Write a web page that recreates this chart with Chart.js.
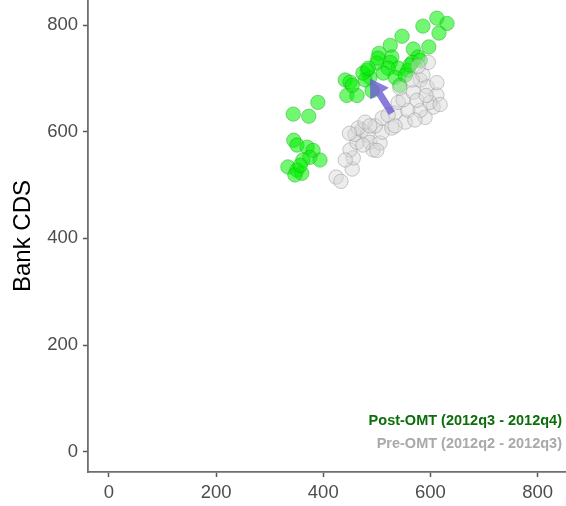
<!DOCTYPE html>
<html>
<head>
<meta charset="utf-8">
<script src="https://cdn.jsdelivr.net/npm/chart.js@4.4.1/dist/chart.umd.min.js"></script>
<style>
  html, body { margin: 0; padding: 0; background: #ffffff; }
  #wrap { width: 566px; height: 506px; }
</style>
</head>
<body>
<div id="wrap"><canvas id="c" width="566" height="506"></canvas></div>
<script>
// Bank CDS (y) against sovereign CDS (x), before and after the OMT announcement

// Pre-OMT observations (2012q2 - 2012q3)
const preX = [424, 433, 454, 456, 450, 463, 459, 472, 482, 487, 493, 474, 506, 510, 497, 510,
              534, 540, 553, 558, 549, 568, 581, 586, 594, 612, 605, 590, 581, 575, 599, 521,
              528, 441, 465, 478, 566, 543, 618, 596, 571, 577, 449, 487, 500, 534, 612, 592];
const preY = [515, 507, 530, 551, 566, 580, 595, 603, 594, 580, 566, 575, 579, 599, 611, 626,
              635, 655, 618, 640, 660, 674, 697, 706, 684, 669, 646, 627, 640, 659, 655, 631,
              607, 547, 607, 618, 697, 682, 651, 730, 622, 723, 597, 611, 565, 611, 692, 668];

// Post-OMT observations (2012q3 - 2012q4)
const postX = [390, 344, 373, 345, 351, 370, 381, 375, 394, 362, 334, 351, 360, 347, 357,
               586, 612, 631, 616, 597, 547, 525, 568, 577, 504, 528, 500, 525, 566, 540,
               558, 521, 482, 487, 512, 534, 553, 441, 450, 444, 463, 478, 454, 474, 484,
               502, 543, 562, 581, 491];
const postY = [655, 633, 629, 584, 575, 571, 565, 552, 547, 547, 534, 528, 522, 519, 537,
               798, 813, 803, 785, 759, 779, 762, 755, 740, 747, 740, 729, 730, 730, 719,
               715, 719, 715, 702, 710, 702, 706, 697, 693, 668, 668, 697, 687, 710, 719,
               738, 687, 725, 734, 677];

// Shift of the group mean: from pre-OMT to post-OMT
const arrowFrom = [528, 635];
const arrowTo = [487, 700];

const xTicks = [0, 200, 400, 600, 800];
const yTicks = [0, 200, 400, 600, 800];

const seriesLabels = ['Post-OMT (2012q3 - 2012q4)', 'Pre-OMT (2012q2 - 2012q3)'];
const yTitle = 'Bank CDS';

const FONT = '"Liberation Sans", Arial, Helvetica, sans-serif';

const toPoints = (xs, ys) => xs.map((x, i) => ({ x: x, y: ys[i] }));

// Arrow drawn in data space over the points
const arrowPlugin = {
  id: 'meanArrow',
  afterDatasetsDraw(chart) {
    const { ctx, scales } = chart;
    const x1 = scales.x.getPixelForValue(arrowFrom[0]);
    const y1 = scales.y.getPixelForValue(arrowFrom[1]);
    const x2 = scales.x.getPixelForValue(arrowTo[0]);
    const y2 = scales.y.getPixelForValue(arrowTo[1]);
    const dx = x2 - x1, dy = y2 - y1;
    const len = Math.hypot(dx, dy);
    const ux = dx / len, uy = dy / len;
    const px = -uy, py = ux;
    const headLen = 18, headHalf = 11, shaftHalf = 3.6;
    const bx = x2 - ux * headLen, by = y2 - uy * headLen;
    ctx.save();
    ctx.fillStyle = 'rgba(106, 90, 210, 0.8)';
    ctx.beginPath();
    ctx.moveTo(x1 + px * shaftHalf, y1 + py * shaftHalf);
    ctx.lineTo(bx + px * shaftHalf, by + py * shaftHalf);
    ctx.lineTo(bx + px * headHalf, by + py * headHalf);
    ctx.lineTo(x2, y2);
    ctx.lineTo(bx - px * headHalf, by - py * headHalf);
    ctx.lineTo(bx - px * shaftHalf, by - py * shaftHalf);
    ctx.lineTo(x1 - px * shaftHalf, y1 - py * shaftHalf);
    ctx.closePath();
    ctx.fill();
    ctx.restore();
  }
};

// Group labels in the lower right corner of the panel
const groupLabelPlugin = {
  id: 'groupLabels',
  afterDraw(chart) {
    const { ctx, chartArea } = chart;
    ctx.save();
    ctx.font = 'bold 14.5px ' + FONT;
    ctx.textAlign = 'right';
    ctx.textBaseline = 'middle';
    ctx.fillStyle = '#0b6e0b';
    ctx.fillText(seriesLabels[0], chartArea.right - 4, chartArea.bottom - 51);
    ctx.fillStyle = '#a9a9a9';
    ctx.fillText(seriesLabels[1], chartArea.right - 4, chartArea.bottom - 28);
    ctx.restore();
  }
};

const axisCommon = {
  type: 'linear',
  grid: { display: true, drawOnChartArea: false, drawTicks: true, tickLength: 5, tickWidth: 1.5, tickColor: '#555555' },
  border: { display: true, color: '#6e6e6e', width: 1.8 },
  ticks: { color: '#4d4d4d', font: { family: FONT, size: 18.5 } }
};

// keep the panel flush with the canvas edges
function noPadding(scale) {
  scale.paddingTop = 0;
  scale.paddingBottom = 0;
  scale.paddingLeft = 0;
  scale.paddingRight = 0;
}

new Chart(document.getElementById('c'), {
  type: 'scatter',
  data: {
    datasets: [
      {
        label: seriesLabels[1],
        data: toPoints(preX, preY),
        backgroundColor: 'rgba(215, 215, 215, 0.45)',
        borderColor: 'rgba(150, 150, 150, 0.5)',
        borderWidth: 1,
        pointRadius: 7.2
      },
      {
        label: seriesLabels[0],
        data: toPoints(postX, postY),
        backgroundColor: 'rgba(0, 240, 0, 0.55)',
        borderColor: 'rgba(20, 170, 20, 0.45)',
        borderWidth: 1,
        pointRadius: 7.2
      }
    ]
  },
  options: {
    responsive: false,
    animation: false,
    devicePixelRatio: 1,
    layout: { padding: 0, autoPadding: false },
    plugins: { legend: { display: false }, tooltip: { enabled: false } },
    scales: {
      x: Object.assign({}, axisCommon, {
        position: 'bottom',
        min: -39, max: 853,
        ticks: Object.assign({}, axisCommon.ticks, { padding: 5, maxRotation: 0 }),
        afterBuildTicks(scale) { scale.ticks = xTicks.map(v => ({ value: v })); },
        afterFit(scale) { scale.height = 34; noPadding(scale); }
      }),
      y: Object.assign({}, axisCommon, {
        position: 'left',
        min: -38, max: 847,
        ticks: Object.assign({}, axisCommon.ticks, { padding: 5 }),
        title: { display: true, text: yTitle, color: '#000000', font: { family: FONT, size: 24 }, padding: { top: 9, bottom: 0 } },
        afterBuildTicks(scale) { scale.ticks = yTicks.map(v => ({ value: v })); },
        afterFit(scale) { scale.width = 88; noPadding(scale); }
      })
    }
  },
  plugins: [arrowPlugin, groupLabelPlugin]
});
</script>
</body>
</html>
